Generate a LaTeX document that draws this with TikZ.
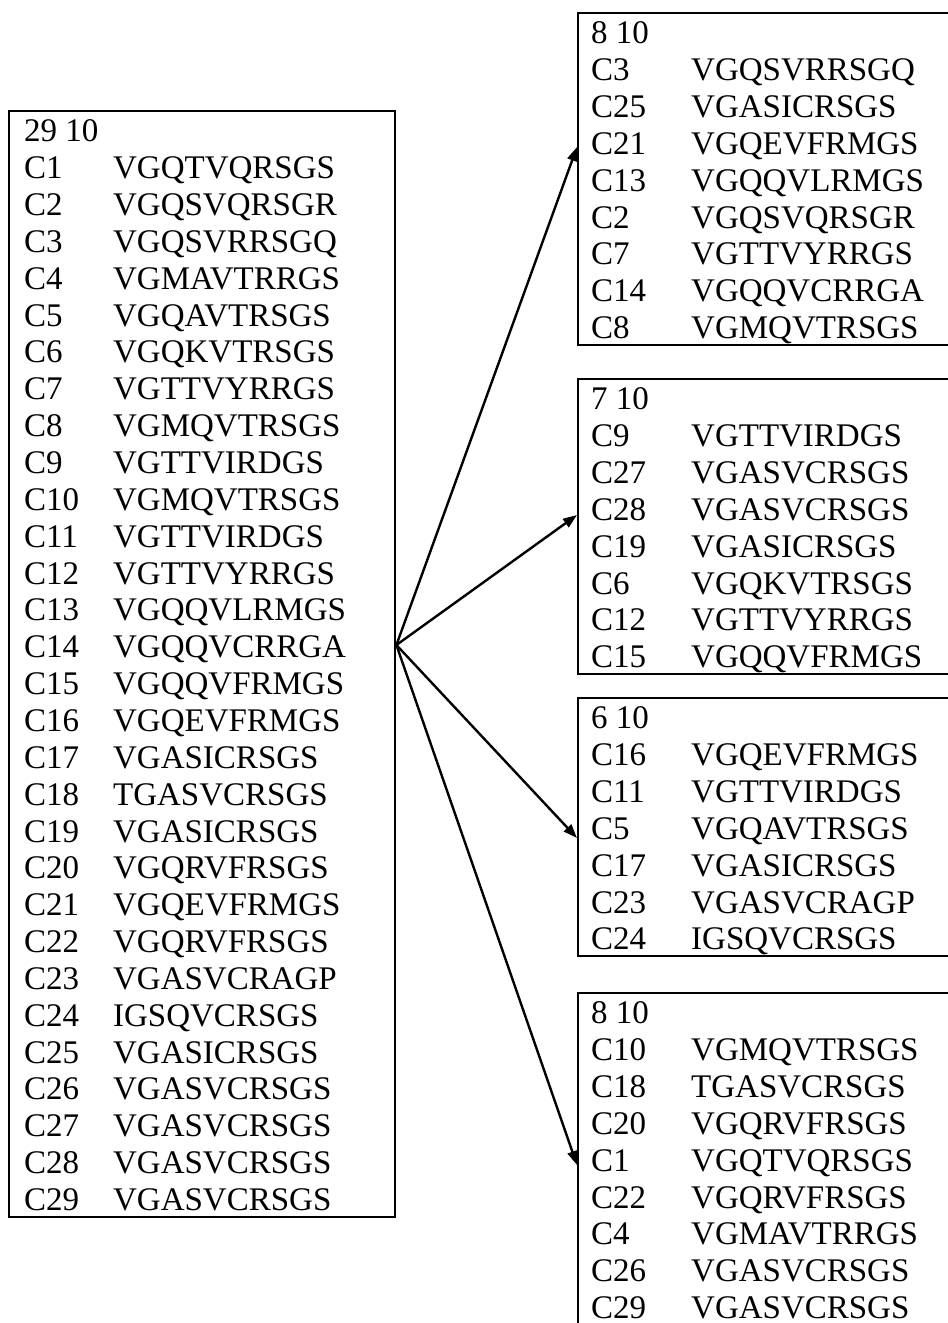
\documentclass[tikz,border=0pt]{standalone}
\usepackage{fontspec}
\setmainfont{Liberation Serif}
\usepackage{array}
\usetikzlibrary{arrows.meta,positioning}

\newcommand{\rowstrut}{\rule[-3.1pt]{0pt}{18.425pt}}
\newcommand{\listfont}{\fontsize{16.5}{18.425}\selectfont}
\renewcommand{\arraystretch}{0}

\begin{document}
\begin{tikzpicture}[x=0.5pt,y=-0.5pt]
\tikzset{seqbox/.style={draw, line width=1.2pt, anchor=north west, inner ysep=0pt, font=\listfont},
  allbox/.style={seqbox, inner xsep=7.5pt},
  groupbox/.style={seqbox, inner xsep=6.5pt},
  split/.style={line width=1.2pt, -{Triangle[length=7pt,width=5pt]}}}
\useasboundingbox (0,0) rectangle (948,1323);
\clip (0,0) rectangle (948,1323);
% all sequences
\node[allbox] (all) at (8,110) {\begin{tabular}{@{}>{\rowstrut}p{44.5pt}@{}p{133.5pt}@{}}
29 10 & \\
C1 & VGQTVQRSGS\\
C2 & VGQSVQRSGR\\
C3 & VGQSVRRSGQ\\
C4 & VGMAVTRRGS\\
C5 & VGQAVTRSGS\\
C6 & VGQKVTRSGS\\
C7 & VGTTVYRRGS\\
C8 & VGMQVTRSGS\\
C9 & VGTTVIRDGS\\
C10 & VGMQVTRSGS\\
C11 & VGTTVIRDGS\\
C12 & VGTTVYRRGS\\
C13 & VGQQVLRMGS\\
C14 & VGQQVCRRGA\\
C15 & VGQQVFRMGS\\
C16 & VGQEVFRMGS\\
C17 & VGASICRSGS\\
C18 & TGASVCRSGS\\
C19 & VGASICRSGS\\
C20 & VGQRVFRSGS\\
C21 & VGQEVFRMGS\\
C22 & VGQRVFRSGS\\
C23 & VGASVCRAGP\\
C24 & IGSQVCRSGS\\
C25 & VGASICRSGS\\
C26 & VGASVCRSGS\\
C27 & VGASVCRSGS\\
C28 & VGASVCRSGS\\
C29 & VGASVCRSGS
\end{tabular}};
% the four groups
\node[groupbox] (g1) at (577,12) {\begin{tabular}{@{}>{\rowstrut}p{50pt}@{}p{132pt}@{}}
8 10 & \\
C3 & VGQSVRRSGQ\\
C25 & VGASICRSGS\\
C21 & VGQEVFRMGS\\
C13 & VGQQVLRMGS\\
C2 & VGQSVQRSGR\\
C7 & VGTTVYRRGS\\
C14 & VGQQVCRRGA\\
C8 & VGMQVTRSGS
\end{tabular}};
\node[groupbox] (g2) at (577,378) {\begin{tabular}{@{}>{\rowstrut}p{50pt}@{}p{132pt}@{}}
7 10 & \\
C9 & VGTTVIRDGS\\
C27 & VGASVCRSGS\\
C28 & VGASVCRSGS\\
C19 & VGASICRSGS\\
C6 & VGQKVTRSGS\\
C12 & VGTTVYRRGS\\
C15 & VGQQVFRMGS
\end{tabular}};
\node[groupbox] (g3) at (577,697) {\begin{tabular}{@{}>{\rowstrut}p{50pt}@{}p{132pt}@{}}
6 10 & \\
C16 & VGQEVFRMGS\\
C11 & VGTTVIRDGS\\
C5 & VGQAVTRSGS\\
C17 & VGASICRSGS\\
C23 & VGASVCRAGP\\
C24 & IGSQVCRSGS
\end{tabular}};
\node[groupbox] (g4) at (577,992) {\begin{tabular}{@{}>{\rowstrut}p{50pt}@{}p{132pt}@{}}
8 10 & \\
C10 & VGMQVTRSGS\\
C18 & TGASVCRSGS\\
C20 & VGQRVFRSGS\\
C1 & VGQTVQRSGS\\
C22 & VGQRVFRSGS\\
C4 & VGMAVTRRGS\\
C26 & VGASVCRSGS\\
C29 & VGASVCRSGS
\end{tabular}};
% arrows
\coordinate (hub) at (all.east |- 0,645);
\coordinate (t1) at (g1.west |- 0,147);
\coordinate (t2) at (g2.west |- 0,515);
\coordinate (t3) at (g3.west |- 0,838);
\coordinate (t4) at (g4.west |- 0,1165);
\foreach \t in {t1,t2,t3,t4}
  \draw[split] (hub) -- (\t);
\end{tikzpicture}
\end{document}
